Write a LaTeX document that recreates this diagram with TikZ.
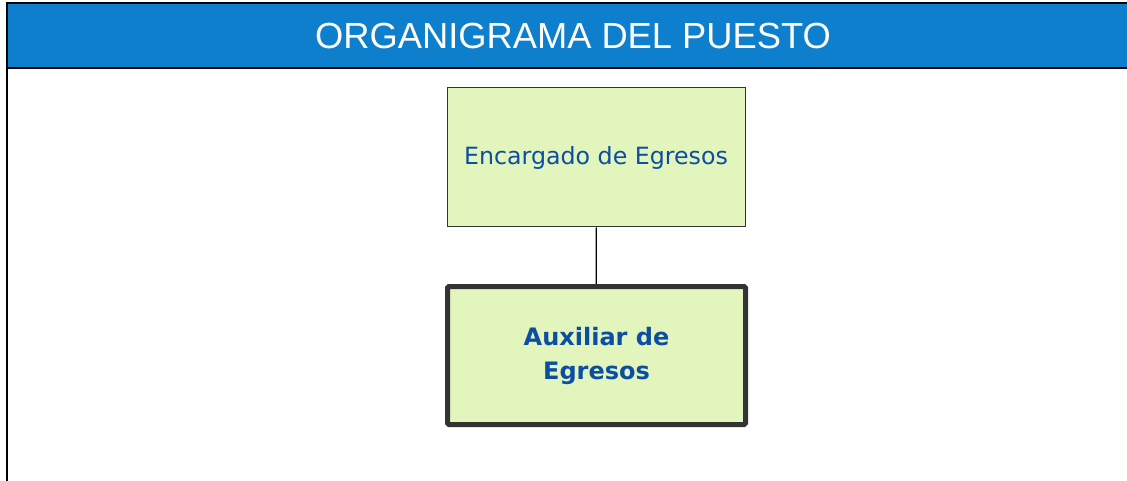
\documentclass[tikz,border=0pt]{standalone}
\usepackage{fontspec}
\setmainfont{Liberation Sans}
\newfontfamily\boxfont{DejaVu Sans}
\definecolor{headblue}{HTML}{0E7FCD}
\definecolor{boxgreen}{HTML}{E2F5BC}
\definecolor{textblue}{HTML}{0B4EA2}
\definecolor{edgegray}{HTML}{333333}
\tikzset{x=1pt, y=-1pt,
  post/.style={draw = edgegray, fill = boxgreen, text = textblue,
    align = center, inner sep = 0pt, font = \boxfont},
  head/.style={text = white, font = \fontsize{36.3}{40}\selectfont}
}
\begin{document}
\begin{tikzpicture}
    \useasboundingbox (0, 0) rectangle (1127, 481);
    \fill[headblue] (7, 3) rectangle (1127, 68);
    \draw[line width = 2pt] (1127, 3) -- (7, 3) -- (7, 481);
    \draw[line width = 2.5pt] (7, 68) -- (1127, 68);
    \draw (573, 36) node[head] (title) {ORGANIGRAMA DEL PUESTO};
    \draw (596, 157.5) node[post, line width = 1pt, minimum width = 298pt,
    minimum height = 139pt, font = \boxfont\fontsize{23.7}{28}\selectfont]
    (enc) {Encargado de Egresos};
    \draw (596.5, 355.5) node[post, line width = 5pt, rounded corners = 1.5pt,
    minimum width = 298pt, minimum height = 138pt,
    font = \boxfont\bfseries\fontsize{24}{34}\selectfont]
    (aux) {Auxiliar de\\Egresos};
    \draw[line width = 1.2pt] (enc) -- (aux);
\end{tikzpicture}
\end{document}
